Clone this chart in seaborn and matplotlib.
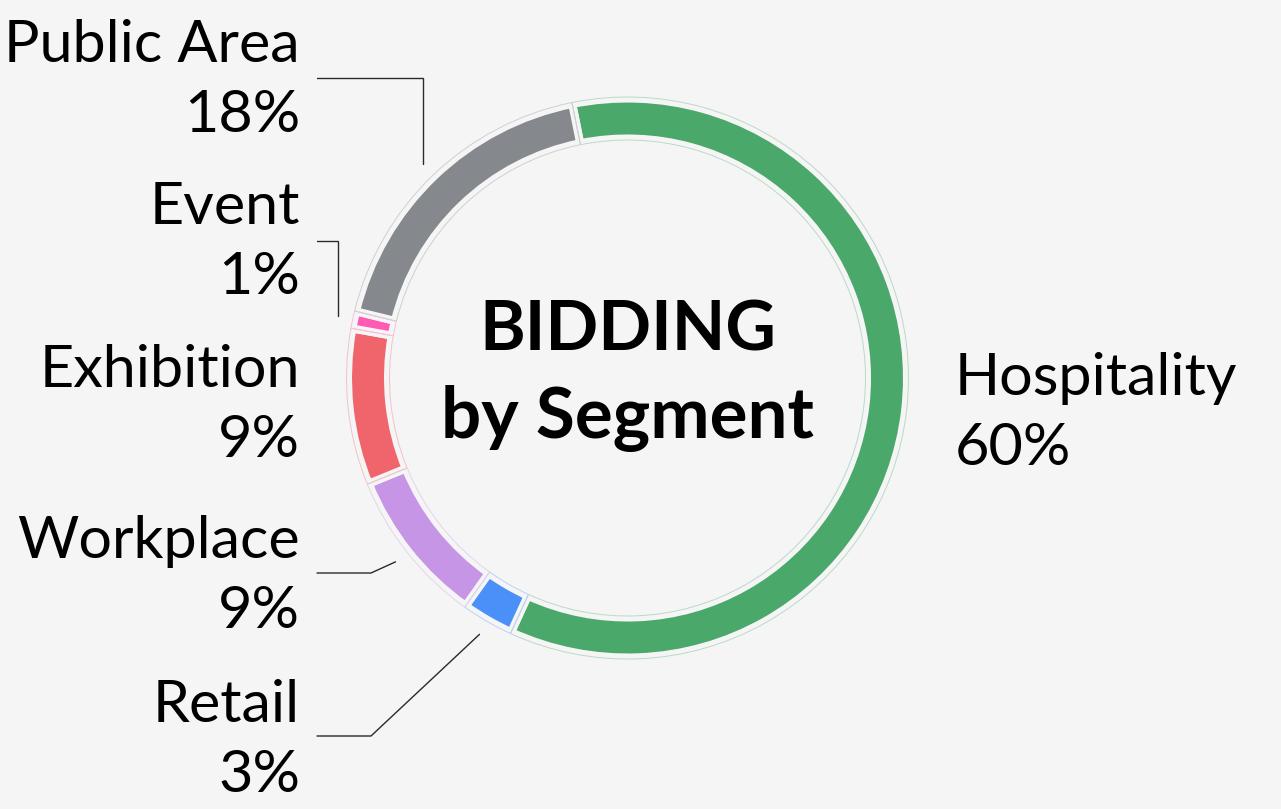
import numpy as np
import matplotlib
matplotlib.use("Agg")
import matplotlib.pyplot as plt
import seaborn as sns

# Data
segments = ['Hospitality', 'Retail', 'Workplace', 'Exhibition', 'Event', 'Public Area']
shares = [60, 3, 9, 9, 1, 18]
colors = ['#4BA86B', '#4A90F8', '#C795E5', '#F0646C', '#FF5AB4', '#85888C']
title_lines = ['BIDDING', 'by Segment']

BG = '#F5F5F5'
W, H = 1281, 809
sns.set_theme(style='white')
plt.rcParams['font.family'] = ['Lato', 'DejaVu Sans']

fig = plt.figure(figsize=(W / 100, H / 100), dpi=100, facecolor=BG)
ax = fig.add_axes([0, 0, 1, 1])
ax.set_facecolor(BG)

cx, cy = 627.5, H - 378
R = 281
start = 101.4

def tint(c, a):
    rgb = np.array(matplotlib.colors.to_rgb(c))
    bg = np.array(matplotlib.colors.to_rgb(BG))
    return tuple(bg + (rgb - bg) * a)

# filled ring with background-coloured gaps
ax.pie(shares, colors=colors, startangle=start, counterclock=False,
       center=(cx, cy), radius=279.5,
       wedgeprops=dict(width=40, edgecolor=BG, linewidth=5.8))
# thin tinted outline around each slot
wedges, _ = ax.pie(shares, colors=['none'] * len(shares), startangle=start,
                   counterclock=False, center=(cx, cy), radius=R,
                   wedgeprops=dict(width=43, linewidth=0.7))
for w, c in zip(wedges, colors):
    w.set_facecolor('none')
    w.set_edgecolor(tint(c, 0.35))

# labels: (x, y of first line, alignment, leader style)
label_pos = {
    'Hospitality': (955, 378, 'left', None),
    'Public Area': (300, 45, 'right', 'vertical'),
    'Event': (300, 207, 'right', 'vertical'),
    'Exhibition': (300, 370, 'right', None),
    'Workplace': (300, 542, 'right', 'diag'),
    'Retail': (300, 705, 'right', 'diag'),
}
line_y = {'Public Area': 78, 'Event': 241, 'Workplace': 573, 'Retail': 736}

cum = 0
for name, val in zip(segments, shares):
    mid = np.deg2rad(start - (cum + val / 2) * 3.6)
    cum += val
    x, y, ha, kind = label_pos[name]
    ax.text(x, H - y, name, ha=ha, va='center', fontsize=42.7, color='black')
    ax.text(x, H - y - 70, f'{val}%', ha=ha, va='center', fontsize=42.7, color='black')
    if kind is None:
        continue
    ex, ey = cx + 296 * np.cos(mid), cy + 296 * np.sin(mid)
    ly = H - line_y[name]
    if kind == 'vertical':
        xs, ys = [317, ex, ex], [ly, ly, ey]
    else:
        xs, ys = [317, 371, ex], [ly, ly, ey]
    ax.plot(xs, ys, color='#2a2a2a', lw=1.0, solid_joinstyle='miter')

ax.text(cx, H - 331, title_lines[0], ha='center', va='center',
        fontsize=50, fontweight='bold', color='black')
ax.text(cx, H - 418, title_lines[1], ha='center', va='center',
        fontsize=51, fontweight='bold', color='black')

ax.set_xlim(0, W)
ax.set_ylim(0, H)
ax.set_aspect('equal')
ax.axis('off')
fig.savefig('out.png', dpi=100, facecolor=BG)
